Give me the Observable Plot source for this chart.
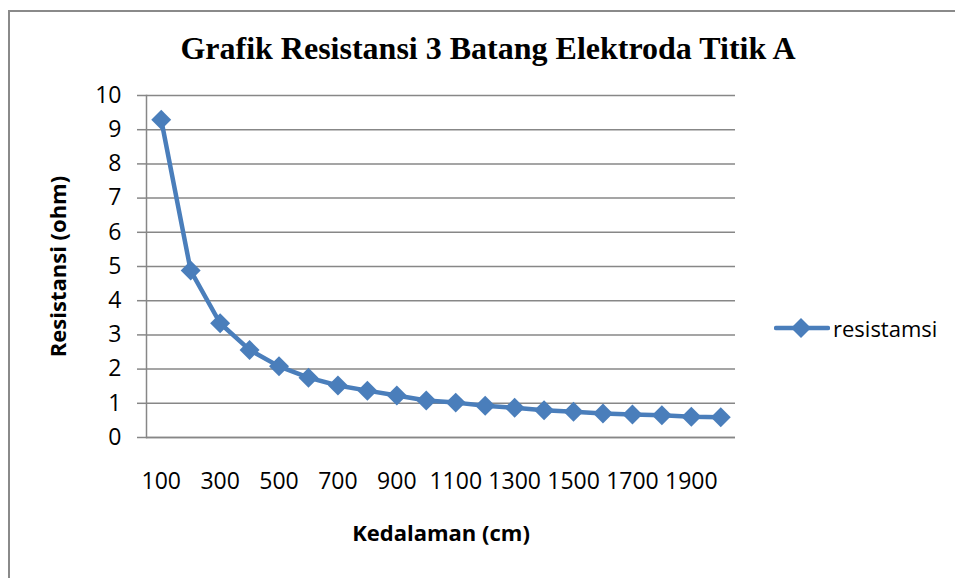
<!DOCTYPE html>
<html><head><meta charset="utf-8">
<script src="https://cdn.jsdelivr.net/npm/d3@7"></script>
<script src="https://cdn.jsdelivr.net/npm/@observablehq/plot@0.6"></script>
<style>
body{margin:0;background:#fff;}
#wrap{position:relative;width:955px;height:578px;overflow:hidden;background:#fff;}
#frame{position:absolute;left:8px;top:10px;width:990px;height:620px;border:2px solid #8a8a8a;box-sizing:border-box;}
#title{position:absolute;left:0;top:30px;width:976px;height:36px;line-height:36px;text-align:center;font-family:"Liberation Serif","Times New Roman",serif;font-weight:bold;font-size:32px;color:#000;white-space:nowrap;}
#chart{position:absolute;left:0;top:60px;}
#legend{position:absolute;left:774px;top:314px;height:28px;display:flex;align-items:center;font-family:"Open Sans",sans-serif;font-size:22px;color:#000;}
g[aria-label="x-axis label"], g[aria-label="y-axis label"]{font-weight:bold;font-size:22px;}
</style>
</head><body>
<div id="wrap">
  <div id="frame"></div>
  <div id="title">Grafik Resistansi 3 Batang Elektroda Titik A</div>
  <div id="chart"></div>
  <div id="legend"></div>
</div>
<script>
const depth = [100,200,300,400,500,600,700,800,900,1000,1100,1200,1300,1400,1500,1600,1700,1800,1900,2000];
const resistance = [9.29,4.88,3.34,2.56,2.08,1.75,1.52,1.37,1.23,1.08,1.02,0.93,0.87,0.80,0.75,0.70,0.67,0.65,0.61,0.59];
const xTickLabels = [100,300,500,700,900,1100,1300,1500,1700,1900];
const yTicks = [0,1,2,3,4,5,6,7,8,9,10];
const seriesName = "resistamsi";
const xTitle = "Kedalaman (cm)";
const yTitle = "Resistansi (ohm)";
const lineColor = "#4a7ebb";
const gridColor = "#878787";

const data = depth.map((d, i) => ({depth: d, r: resistance[i]}));

const plot = Plot.plot({
  width: 955,
  height: 518,
  marginLeft: 146,
  marginRight: 220,
  marginTop: 35,
  marginBottom: 141,
  style: {fontFamily: "'Open Sans', sans-serif", fontSize: "23px", color: "#000", background: "transparent", overflow: "visible"},
  x: {type: "point", domain: depth, padding: 0.5, round: false},
  y: {domain: [0, 10]},
  marks: [
    Plot.gridY(yTicks, {stroke: gridColor, strokeOpacity: 1, strokeWidth: 1.5}),
    Plot.ruleY([0], {stroke: gridColor, strokeWidth: 1.5}),
    Plot.frame({anchor: "left", stroke: gridColor, strokeWidth: 1.5}),
    Plot.axisY(yTicks, {tickSize: 9, tickPadding: 16, stroke: gridColor, strokeWidth: 1.5, fill: "#000",
      label: yTitle, labelAnchor: "center", labelOffset: 96, labelArrow: "none"}),
    Plot.axisX(xTickLabels, {tickSize: 0, tickPadding: 35, fill: "#000", tickFormat: d => String(d),
      label: xTitle, labelAnchor: "center", labelOffset: 103, labelArrow: "none"}),
    Plot.line(data, {x: "depth", y: "r", stroke: lineColor, strokeWidth: 4.5, strokeLinejoin: "round"}),
    Plot.dot(data, {x: "depth", y: "r", symbol: "diamond2", r: 9, fill: lineColor, stroke: null})
  ]
});
document.getElementById("chart").appendChild(plot);

// legend
const leg = document.getElementById("legend");
leg.innerHTML = `<svg width="56" height="28" style="display:block"><line x1="2" y1="14" x2="54" y2="14" stroke="${lineColor}" stroke-width="4.5" stroke-linecap="round"/><polygon points="27,4 37,14 27,24 17,14" fill="${lineColor}"/></svg><span style="margin-left:3px">${seriesName}</span>`;
</script>
</body></html>
